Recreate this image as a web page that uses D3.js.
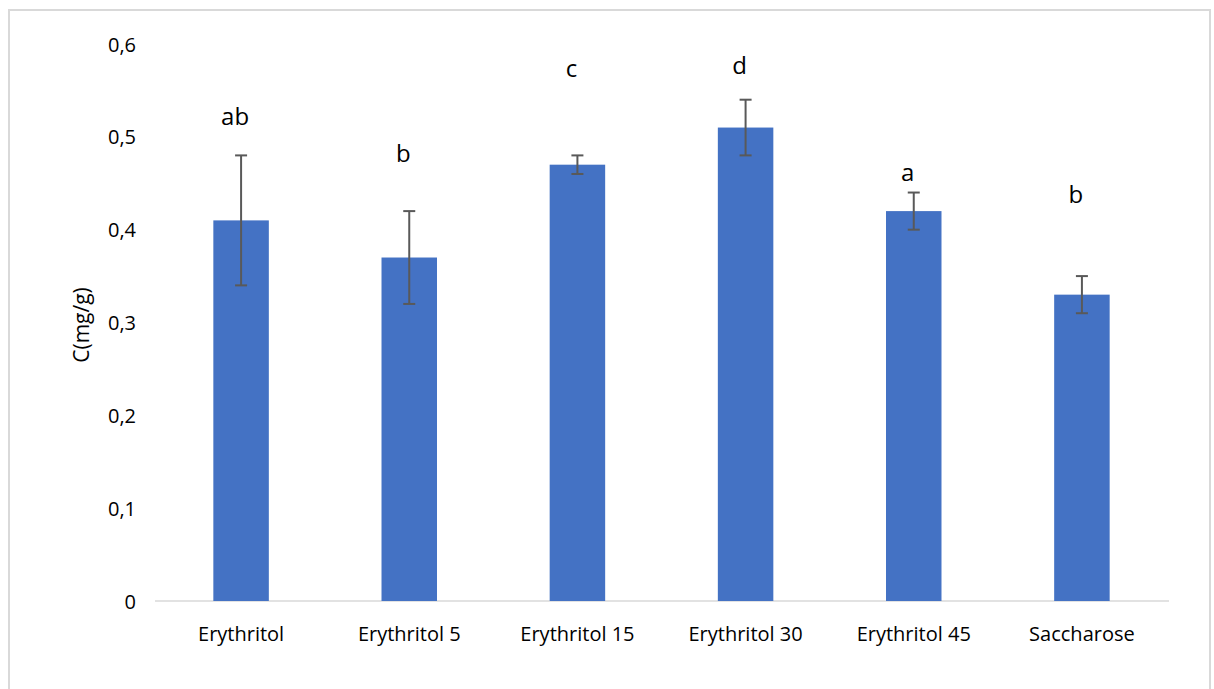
<!DOCTYPE html>
<html>
<head>
<meta charset="utf-8">
<script src="https://cdn.jsdelivr.net/npm/d3@7"></script>
<style>
  html, body { margin: 0; padding: 0; background: #fff; }
  svg { display: block; }
  text { font-family: "Open Sans", "Noto Sans", sans-serif; fill: #000; }
</style>
</head>
<body>
<svg id="chart" width="1214" height="689"></svg>
<script>
// Sample groups and measured concentrations (mg/g)
const categories = ["Erythritol", "Erythritol 5", "Erythritol 15", "Erythritol 30", "Erythritol 45", "Saccharose"];
const means = [0.41, 0.37, 0.47, 0.51, 0.42, 0.33];
const errors = [0.07, 0.05, 0.01, 0.03, 0.02, 0.02];
// Significance letters and the level (in mg/g) at which each is written
const letters = ["ab", "b", "c", "d", "a", "b"];
const letterLevels = [0.513, 0.473, 0.564, 0.568, 0.452, 0.429];
const yTicks = [0, 0.1, 0.2, 0.3, 0.4, 0.5, 0.6];

const svg = d3.select("#chart");

// frame around the chart area
svg.append("rect")
  .attr("x", 9).attr("y", 10)
  .attr("width", 1201).attr("height", 690)
  .attr("fill", "#fff")
  .attr("stroke", "#d9d9d9").attr("stroke-width", 2);

const x = d3.scaleBand()
  .domain(categories)
  .range([157, 1166])
  .paddingInner(0.67)
  .paddingOuter(0.335);

const y = d3.scaleLinear().domain([0, 0.6]).range([601, 44]);

// y tick labels (comma decimal separator)
const fmt = v => v === 0 ? "0" : d3.format(".1f")(v).replace(".", ",");
const yAxis = d3.axisLeft(y).tickValues(yTicks).tickFormat(fmt).tickSize(0).tickPadding(0);
const gy = svg.append("g").attr("transform", "translate(136,0)").call(yAxis);
gy.select(".domain").remove();
gy.selectAll("text").style("font-size", "20px").attr("dy", "0.35em");

// baseline
const gx = svg.append("g").attr("transform", `translate(0,${y(0)})`)
  .call(d3.axisBottom(x).tickSize(0).tickPadding(0));
gx.select(".domain").attr("stroke", "#d9d9d9").attr("stroke-width", 1.5)
  .attr("d", "M155,0H1169");
gx.selectAll("text").style("font-size", "20px").attr("dy", "0").attr("y", 40);

// bars
svg.append("g").selectAll("rect")
  .data(categories)
  .join("rect")
  .attr("x", d => x(d))
  .attr("width", x.bandwidth())
  .attr("y", (d, i) => y(means[i]))
  .attr("height", (d, i) => y(0) - y(means[i]))
  .attr("fill", "#4472c4");

// error bars
const eg = svg.append("g").attr("stroke", "#595959").attr("stroke-width", 2).attr("fill", "none");
categories.forEach((c, i) => {
  const cx = x(c) + x.bandwidth() / 2;
  const hi = y(means[i] + errors[i]), lo = y(means[i] - errors[i]);
  eg.append("line").attr("x1", cx).attr("x2", cx).attr("y1", hi).attr("y2", lo);
  eg.append("line").attr("x1", cx - 6).attr("x2", cx + 6).attr("y1", hi).attr("y2", hi);
  eg.append("line").attr("x1", cx - 6).attr("x2", cx + 6).attr("y1", lo).attr("y2", lo);
});

// significance letters
svg.append("g").selectAll("text")
  .data(categories)
  .join("text")
  .attr("x", d => x(d) + x.bandwidth() / 2 - 6)
  .attr("y", (d, i) => y(letterLevels[i]))
  .attr("text-anchor", "middle")
  .style("font-size", "24px")
  .text((d, i) => letters[i]);

// y axis title
svg.append("text")
  .attr("transform", "translate(89,325) rotate(-90)")
  .attr("text-anchor", "middle")
  .style("font-size", "21px")
  .text("C(mg/g)");
</script>
</body>
</html>
